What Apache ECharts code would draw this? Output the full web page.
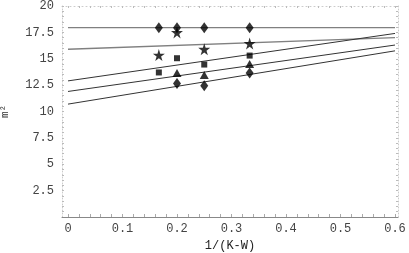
<!DOCTYPE html>
<html><head><meta charset="utf-8">
<script src="https://cdn.jsdelivr.net/npm/echarts@6/dist/echarts.min.js"></script>
<style>html,body{margin:0;padding:0;background:#fff}#c{width:409px;height:253px}</style>
</head><body><div id="c"></div>
<script>
// x positions of the measurements, 1/(K-W)
const xs = [0.1667, 0.2, 0.25, 0.3333];
// marker series (null = no point)
const diamondsTop = [17.95, 17.95, 17.95, 17.95];
const stars = [15.35, 17.5, 15.9, 16.45];
const squares = [13.7, 15.05, 14.45, 15.3];
const triangles = [null, 13.65, 13.45, 14.5];
const diamondsLow = [null, 12.65, 12.45, 13.65];
// fitted lines: values at x=0 and x=0.6
const fitX = [0, 0.6];
const fitStart = [17.95, 15.9, 12.9, 11.9, 10.7];
const fitEnd = [17.95, 17.0, 17.4, 16.3, 15.75];
// tick labels
const xTickLabels = [0, 0.1, 0.2, 0.3, 0.4, 0.5, 0.6];
const yTickLabels = [2.5, 5, 7.5, 10, 12.5, 15, 17.5, 20];
const xMinorTicks = [];
for (let i = 0; i <= 30; i++) xMinorTicks.push(+(i * 0.02).toFixed(2));
const yMinorTicks = [];
for (let i = 1; i <= 40; i++) yMinorTicks.push(i * 0.5);

const font = 'Liberation Mono';
const pts = arr => xs.map((x, i) => arr[i] == null ? null : [x, arr[i]]).filter(p => p);
const star = 'path://M50,0 L61,35 L98,35 L68,57 L79,91 L50,70 L21,91 L32,57 L2,35 L39,35 Z';

const series = [];
fitStart.forEach((s, i) => {
  series.push({
    type: 'line', xAxisIndex: 0, yAxisIndex: 0, symbol: 'none', silent: true,
    data: [[fitX[0], s], [fitX[1], fitEnd[i]]],
    lineStyle: { color: i < 2 ? '#808080' : '#333', width: i < 2 ? 1.3 : 1 }
  });
});
const sc = (data, symbol, size) => ({
  type: 'scatter', xAxisIndex: 0, yAxisIndex: 0, data, symbol, symbolSize: size,
  itemStyle: { color: '#000' }, z: 5
});
series.push(sc(pts(diamondsTop), 'diamond', [8, 11]));
series.push(sc(pts(stars), star, 12));
series.push(sc(pts(squares), 'rect', 6));
series.push(sc(pts(triangles), 'triangle', [9, 8]));
series.push(sc(pts(diamondsLow), 'diamond', [8, 11]));

const chart = echarts.init(document.getElementById('c'), null, { renderer: 'canvas' });
chart.setOption({
  animation: false,
  grid: { left: 62, right: 11, top: 6, bottom: 36, containLabel: false, outerBoundsMode: 'none' },
  xAxis: [{
    type: 'value', min: -0.011, max: 0.6055, position: 'bottom',
    name: '1/(K-W)', nameLocation: 'middle', nameGap: 20,
    nameTextStyle: { fontFamily: font, fontSize: 12, color: '#222' },
    axisLine: { show: true, onZero: false, lineStyle: { color: '#888', width: 1 } },
    axisTick: { show: true, inside: true, length: 3, customValues: xMinorTicks, lineStyle: { color: '#aaa' } },
    axisLabel: { customValues: xTickLabels, fontFamily: font, fontSize: 12, color: '#444', margin: 6 },
    splitLine: { show: false }
  }, {
    type: 'value', min: -0.011, max: 0.6055, position: 'top',
    axisLine: { show: true, onZero: false, lineStyle: { color: '#ccc', type: [1, 3] } },
    axisTick: { show: true, inside: true, length: 2, customValues: xMinorTicks, lineStyle: { color: '#bbb' } },
    axisLabel: { show: false }, splitLine: { show: false }
  }],
  yAxis: [{
    type: 'value', min: 0, max: 20, position: 'left',
    name: 'm²', nameLocation: 'middle', nameGap: 51, nameRotate: 90,
    nameTextStyle: { fontFamily: font, fontSize: 11, color: '#333' },
    axisLine: { show: true, onZero: false, lineStyle: { color: '#ccc', type: [1, 2] } },
    axisTick: { show: true, inside: true, length: 2, customValues: yMinorTicks, lineStyle: { color: '#bbb' } },
    axisLabel: { customValues: yTickLabels, fontFamily: font, fontSize: 12, color: '#444', margin: 8 },
    splitLine: { show: false }
  }, {
    type: 'value', min: 0, max: 20, position: 'right',
    axisLine: { show: true, onZero: false, lineStyle: { color: '#ccc', type: [1, 2] } },
    axisTick: { show: true, inside: true, length: 2, customValues: yMinorTicks, lineStyle: { color: '#bbb' } },
    axisLabel: { show: false }, splitLine: { show: false }
  }],
  series
});
</script></body></html>
